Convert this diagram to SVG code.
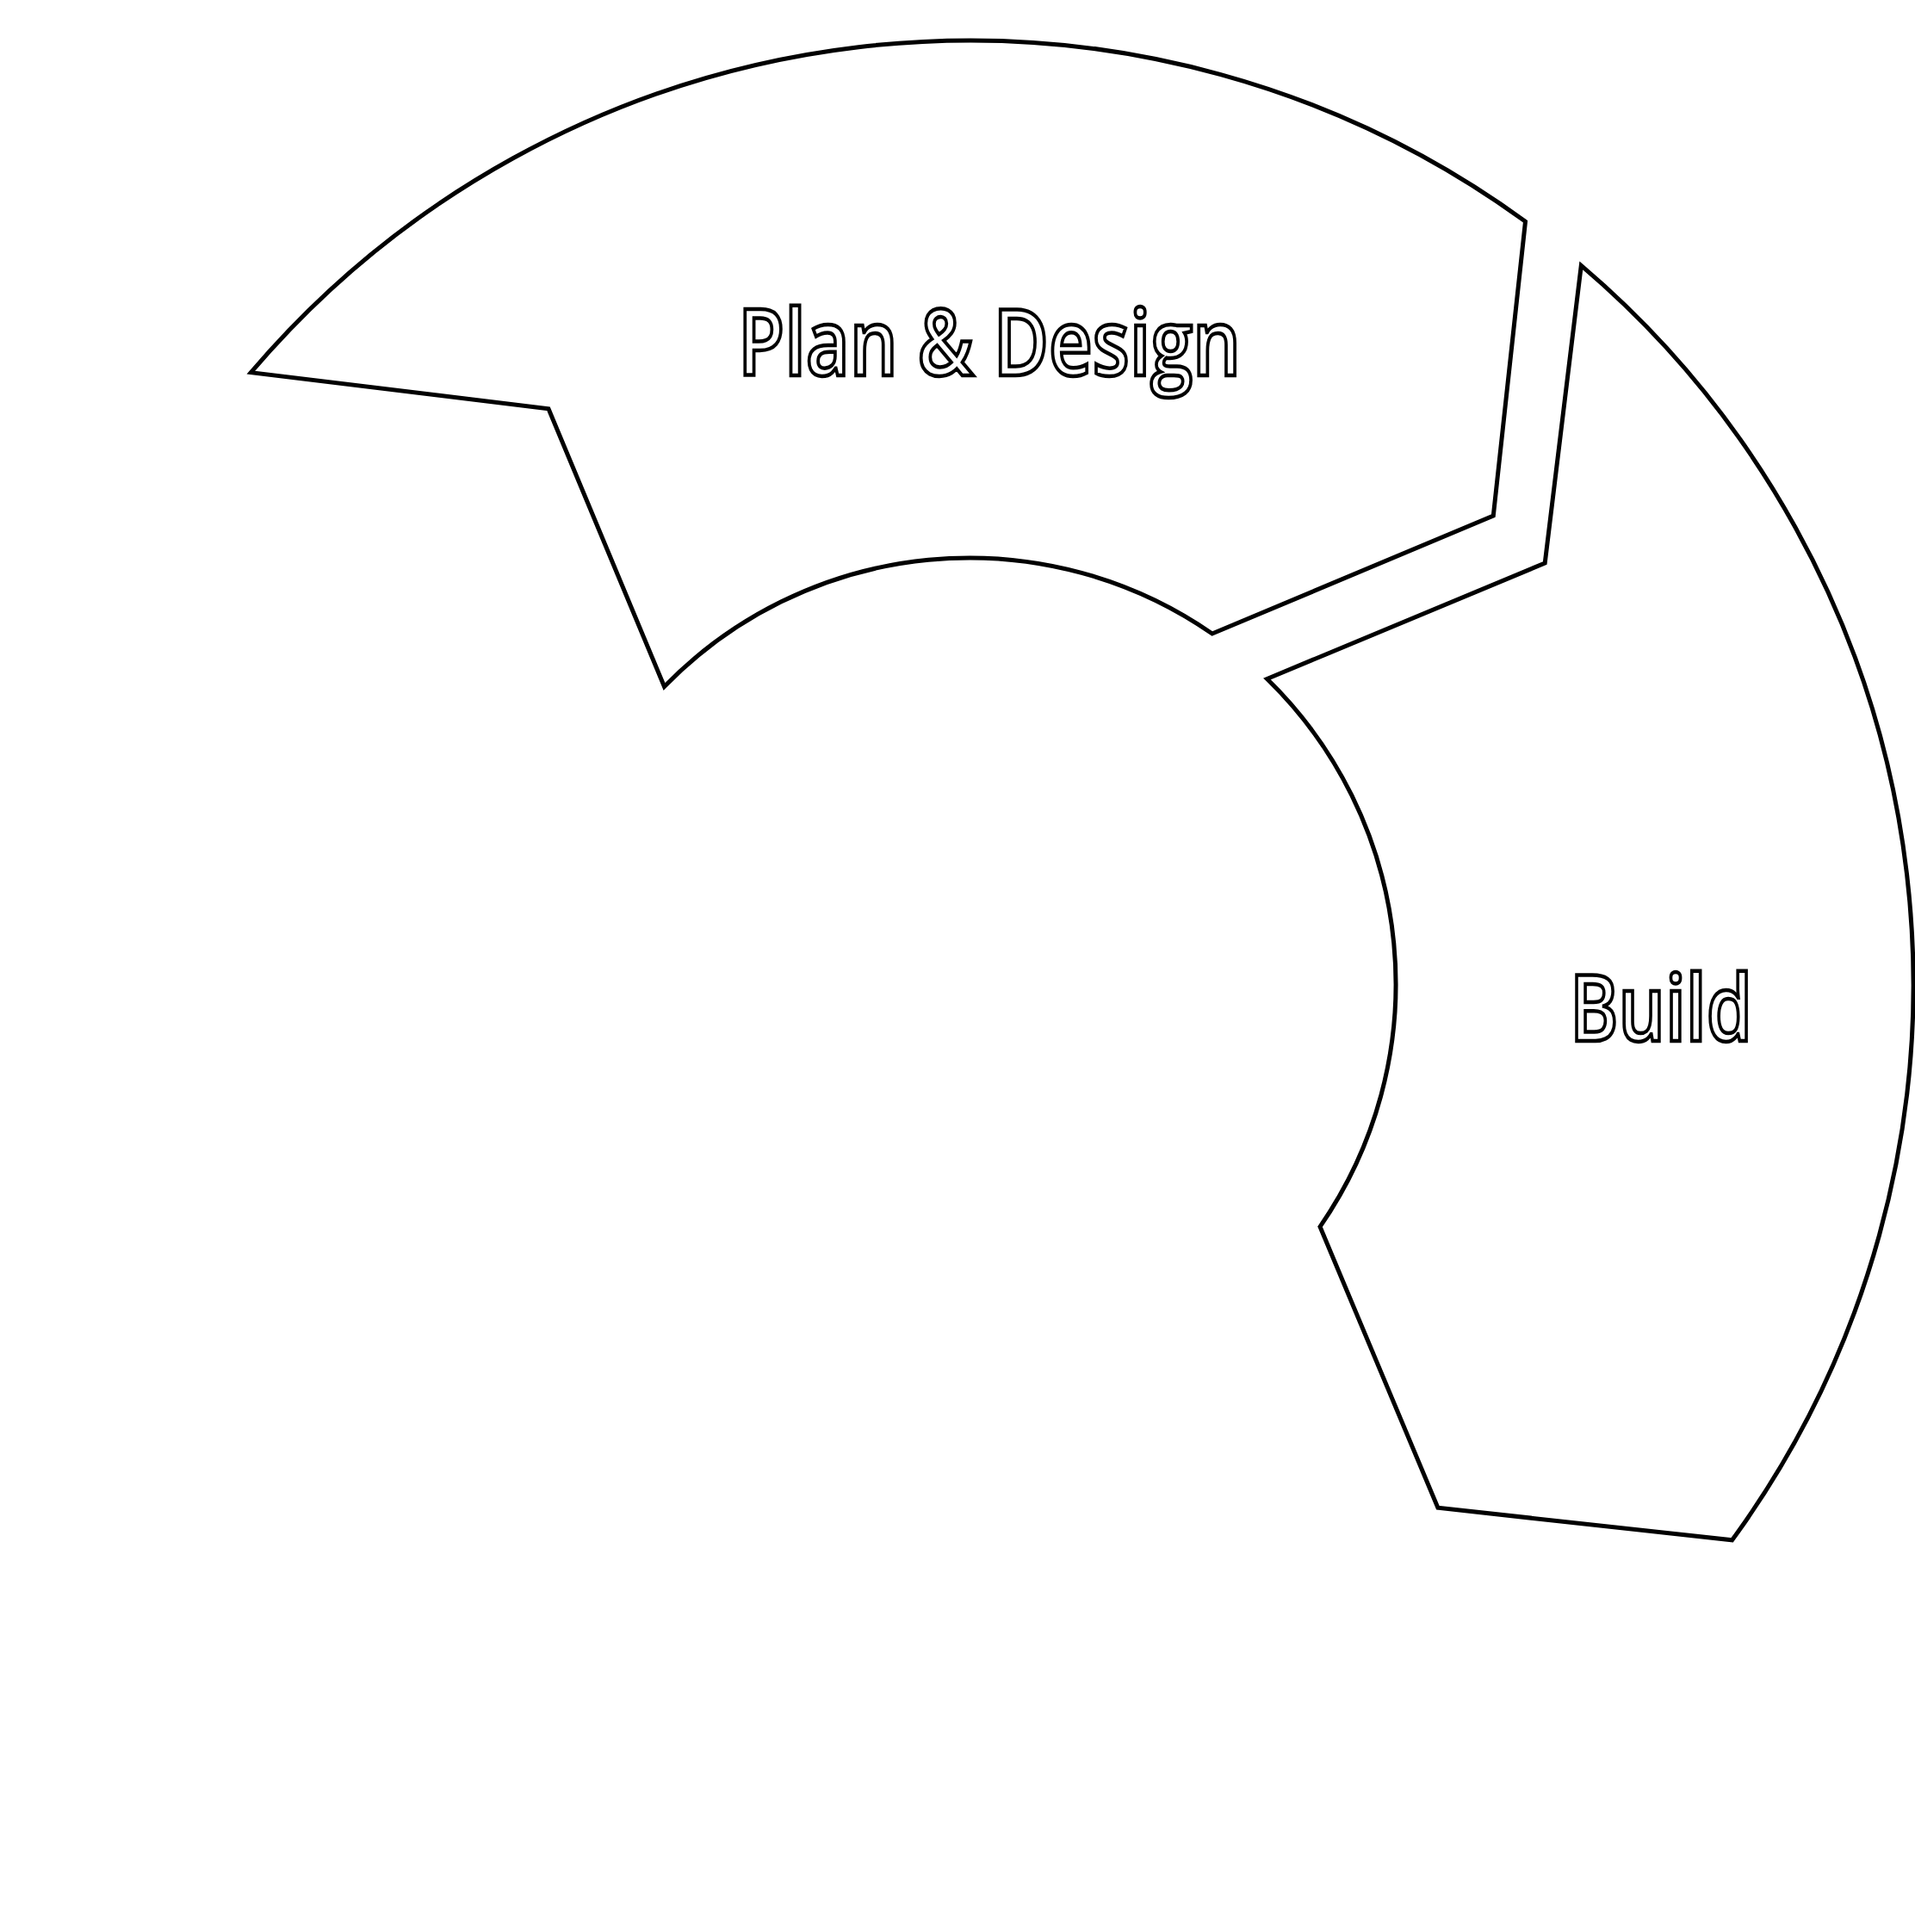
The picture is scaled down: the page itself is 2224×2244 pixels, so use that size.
<svg xmlns="http://www.w3.org/2000/svg" width="2224" height="2244" viewBox="0 0 2224 2244">
  <style>
    .seg { fill: #ffffff; stroke: #000000; stroke-width: 5; stroke-linejoin: miter; }
    .lbl { font-family: "Open Sans", "Noto Sans", "Liberation Sans", sans-serif; font-size: 106px; font-weight: 600; fill: #ffffff; stroke: #000000; stroke-width: 4.5; text-anchor: middle; }
  </style>
  <rect x="0" y="0" width="2224" height="2244" fill="#ffffff"/>
  <g id="node-plan-design">
    <path class="seg" d="M 291.4 432.7 A 1096 1096 0 0 1 1771.5 257.3 L 1734.3 599.1 L 1407.8 736.0 A 495 495 0 0 0 771.5 797.5 L 637.0 474.8 Z"/>
    <text class="lbl" x="1149" y="436" textLength="584" lengthAdjust="spacingAndGlyphs">Plan &amp; Design</text>
  </g>
  <g id="node-build">
    <path class="seg" d="M 1836.3 308.4 A 1096 1096 0 0 1 2011.6 1788.8 L 1669.9 1751.3 L 1533.0 1424.8 A 495 495 0 0 0 1471.5 788.5 L 1794.2 654.0 Z"/>
    <text class="lbl" x="1929" y="1209" textLength="212" lengthAdjust="spacingAndGlyphs">Build</text>
  </g>
</svg>
